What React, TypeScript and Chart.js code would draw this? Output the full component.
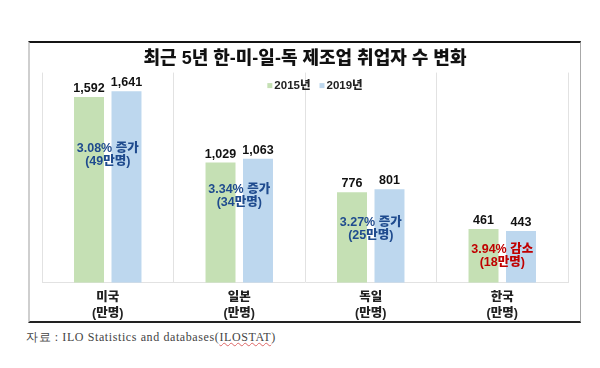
import React, { useEffect, useRef } from "react";
import { Chart, registerables } from "chart.js";

Chart.register(...registerables);

const titleText = "최근 5년 한-미-일-독 제조업 취업자 수 변화";
const categories = [["미국", "(만명)"], ["일본", "(만명)"], ["독일", "(만명)"], ["한국", "(만명)"]];
const seriesNames = ["2015년", "2019년"];
const values2015 = [1592, 1029, 776, 461];
const values2019 = [1641, 1063, 801, 443];
const noteLines = [
  ["3.08% 증가", "(49만명)"],
  ["3.34% 증가", "(34만명)"],
  ["3.27% 증가", "(25만명)"],
  ["3.94% 감소", "(18만명)"],
];
const noteAt = [1091, 739, 463, 229];
const noteColors = ["#1f4b8e", "#1f4b8e", "#1f4b8e", "#c00000"];
const yMax = 1800;

const FONT = "'Liberation Sans', 'Noto Sans CJK KR', Arial, sans-serif";
const GREEN = "#c5e0b4";
const BLUE = "#bdd7ee";

const labelsPlugin = {
  id: "labelsPlugin",
  afterDatasetsDraw(chart: any) {
    const ctx = chart.ctx;
    ctx.save();
    ctx.textAlign = "center";
    ctx.textBaseline = "alphabetic";
    ctx.font = `bold 12.5px ${FONT}`;
    ctx.fillStyle = "#111";
    chart.data.datasets.forEach((ds: any, di: number) => {
      const meta = chart.getDatasetMeta(di);
      meta.data.forEach((bar: any, i: number) => {
        const v = ds.data[i] as number;
        ctx.fillText(v.toLocaleString("en-US"), bar.x, bar.y - 5);
      });
    });
    // annotations
    const xs = chart.scales.x;
    const ys = chart.scales.y;
    ctx.font = `900 12.5px ${FONT}`;
    ctx.textBaseline = "middle";
    noteLines.forEach((lines, i) => {
      const cx = xs.getPixelForValue(i);
      const cy = ys.getPixelForValue(noteAt[i]);
      ctx.fillStyle = noteColors[i];
      ctx.fillText(lines[0], cx, cy - 6.5);
      ctx.fillText(lines[1], cx, cy + 6.5);
    });
    // legend
    const area = chart.chartArea;
    ctx.font = `900 11.5px ${FONT}`;
    ctx.textAlign = "left";
    const box = 5;
    const gap = 2;
    const spacing = 9;
    const widths = seriesNames.map((s) => ctx.measureText(s).width);
    const total = widths.reduce((a, w) => a + box + gap + w, 0) + spacing;
    let x = (area.left + area.right) / 2 + 10 - total / 2;
    const ly = area.top + 13;
    const colors = [GREEN, BLUE];
    seriesNames.forEach((s, i) => {
      ctx.fillStyle = colors[i];
      ctx.fillRect(x, ly - box / 2, box, box);
      x += box + gap;
      ctx.fillStyle = "#222";
      ctx.fillText(s, x, ly + 0.5);
      x += widths[i] + spacing;
    });
    ctx.restore();
  },
};

export default function App() {
  const ref = useRef<HTMLCanvasElement | null>(null);
  useEffect(() => {
    if (!ref.current) return;
    const chart = new Chart(ref.current, {
      type: "bar",
      data: {
        labels: categories,
        datasets: [
          { label: seriesNames[0], data: values2015, backgroundColor: GREEN, categoryPercentage: 0.57, barPercentage: 0.8 },
          { label: seriesNames[1], data: values2019, backgroundColor: BLUE, categoryPercentage: 0.57, barPercentage: 0.8 },
        ],
      },
      options: {
        animation: false,
        responsive: false,
        maintainAspectRatio: false,
        layout: { padding: { left: 12, right: 11, top: 0, bottom: 0 } },
        plugins: {
          legend: { display: false },
          tooltip: { enabled: false },
          title: {
            display: true,
            text: titleText,
            color: "#111",
            font: { family: FONT, size: 18, weight: 900, lineHeight: 1.2 },
            padding: { top: 4, bottom: 3 },
          },
        },
        scales: {
          x: {
            grid: { display: true, color: "#e2e2e2", lineWidth: 1, drawTicks: false, offset: true },
            border: { display: true, color: "#e2e2e2" },
            ticks: {
              color: "#222",
              font: { family: FONT, size: 12.5, weight: 900, lineHeight: 1.25 },
              padding: 7,
              maxRotation: 0,
            },
          },
          y: { display: false, min: 0, max: yMax },
        },
      },
      plugins: [labelsPlugin],
    });
    return () => chart.destroy();
  }, []);

  return (
    <div style={{ position: "absolute", left: 0, top: 0, width: 600, height: 368, background: "#fff", overflow: "hidden" }}>
      <div
        style={{
          position: "absolute",
          left: 28,
          top: 41,
          width: 553,
          height: 282,
          boxSizing: "border-box",
          borderTop: "2px solid #151515",
          borderBottom: "2px solid #222",
          borderLeft: "2px solid #cfcfcf",
          borderRight: "1px solid #a8a8a8",
        }}
      />
      <canvas ref={ref} width={549} height={284} style={{ position: "absolute", left: 30, top: 44, width: 549, height: 284 }} />
      <div
        style={{
          position: "absolute",
          left: 26,
          top: 329,
          fontFamily: "'Liberation Serif', 'DejaVu Serif', serif",
          fontSize: 12,
          color: "#444",
          whiteSpace: "nowrap",
          letterSpacing: 0.6,
        }}
      >
        자료 : ILO Statistics and databases(
        <span style={{ textDecoration: "underline wavy #d66", textDecorationThickness: 1 }}>ILOSTAT</span>)
      </div>
    </div>
  );
}
